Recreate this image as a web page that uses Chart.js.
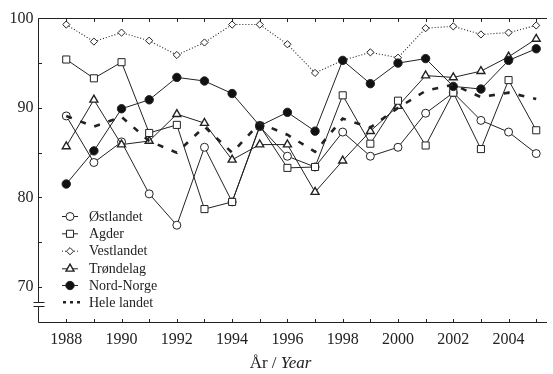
<!DOCTYPE html>
<html><head><meta charset="utf-8">
<script src="https://cdn.jsdelivr.net/npm/chart.js@4/dist/chart.umd.min.js"></script>
<style>html,body{margin:0;padding:0;background:#fff}#wrap{width:553px;height:374px}</style>
</head><body><div id="wrap"><canvas id="c" width="553" height="374"></canvas></div>
<script>
const years = [1988,1989,1990,1991,1992,1993,1994,1995,1996,1997,1998,1999,2000,2001,2002,2003,2004,2005];
const ostlandet  = [89.1,83.9,86.2,80.4,76.9,85.6,79.5,87.9,84.6,83.4,87.3,84.6,85.6,89.4,91.7,88.6,87.3,84.9];
const agder      = [95.4,93.3,95.1,87.2,88.1,78.7,79.5,88.0,83.3,83.4,91.4,86.0,90.8,85.8,91.7,85.4,93.1,87.5];
const vestlandet = [99.3,97.4,98.4,97.5,95.9,97.3,99.3,99.3,97.1,93.9,95.3,96.2,95.6,98.9,99.1,98.2,98.4,99.2];
const trondelag  = [85.7,90.9,85.9,86.3,89.3,88.3,84.2,85.9,85.9,80.6,84.1,87.4,90.2,93.6,93.4,94.1,95.7,97.7];
const nordNorge  = [81.5,85.2,89.9,90.9,93.4,93.0,91.6,88.0,89.5,87.4,95.3,92.7,95.0,95.5,92.4,92.1,95.3,96.6];
const heleLandet = [89.1,87.9,89.0,86.3,85.0,87.9,85.0,88.3,87.0,85.1,88.8,87.8,90.0,91.9,92.6,91.2,91.7,91.0];
const seriesNames = ['Østlandet','Agder','Vestlandet','Trøndelag','Nord-Norge','Hele landet'];
const yTickValues = [70,75,80,85,90,95,100];
const xAxisTitle = ['År / ', 'Year'];

const INK = '#222';
const FONT = '"Liberation Serif", "Times New Roman", serif';
const pts = arr => arr.map((v,i)=>({x:years[i], y:v}));

const styles = [
  {pointStyle:'circle', pointRadius:4, pointBackgroundColor:'#fff', borderDash:[], borderWidth:1, order:4},
  {pointStyle:'rect', pointRadius:5, pointBackgroundColor:'#fff', borderDash:[], borderWidth:1, order:2},
  {pointStyle:'rectRot', pointRadius:3.6, pointBackgroundColor:'#fff', borderDash:[1,2], borderWidth:1.1, order:5},
  {pointStyle:'triangle', pointRadius:4.6, pointBackgroundColor:'#fff', borderDash:[], borderWidth:1, order:3, pointBorderWidth:1.4},
  {pointStyle:'circle', pointRadius:4.2, pointBackgroundColor:'#111', borderDash:[], borderWidth:1, order:1},
  {pointStyle:false, pointRadius:0, pointBackgroundColor:'#111', borderDash:[6,9], borderWidth:2.6, order:0}
];
const seriesData = [ostlandet, agder, vestlandet, trondelag, nordNorge, heleLandet];

const datasets = seriesData.map((d,i)=>Object.assign({
  label: seriesNames[i], data: pts(d), borderColor: INK, pointBorderColor: INK,
  pointBorderWidth: styles[i].pointBorderWidth || 1, tension:0, fill:false, clip:false
}, styles[i]));

const decor = {
  id:'decor',
  afterDraw(chart){
    const {ctx, chartArea:a, scales:{x, y}} = chart;
    ctx.save();
    ctx.strokeStyle = INK; ctx.lineWidth = 1; ctx.setLineDash([]);
    const L = Math.round(a.left)+0.5, T = Math.round(a.top)+0.5, B = Math.round(a.bottom)+0.5, R = a.right;
    ctx.beginPath();
    ctx.moveTo(L,T); ctx.lineTo(R,T);
    ctx.moveTo(L,B); ctx.lineTo(R,B);
    ctx.moveTo(L,T); ctx.lineTo(L,B);
    x.ticks.forEach(t=>{ const px = Math.round(x.getPixelForValue(t.value))+0.5;
      ctx.moveTo(px,T); ctx.lineTo(px,T+3.5); ctx.moveTo(px,B); ctx.lineTo(px,B-3.5); });
    y.ticks.forEach(t=>{ const py = Math.round(y.getPixelForValue(t.value))+0.5;
      ctx.moveTo(L,py); ctx.lineTo(L+3.5,py); });
    ctx.stroke();
    // axis break
    const b1 = Math.round(y.getPixelForValue(68.35))+0.5, b2 = Math.round(y.getPixelForValue(67.9))+0.5;
    ctx.fillStyle = '#fff'; ctx.fillRect(L-1.5, b1, 3, b2-b1);
    ctx.beginPath();
    ctx.moveTo(L-5, b1); ctx.lineTo(L+6, b1);
    ctx.moveTo(L-5, b2); ctx.lineTo(L+6, b2);
    ctx.stroke();
    // x-axis title with italic part
    ctx.fillStyle = INK; ctx.textBaseline = 'middle';
    const f1 = '17px ' + FONT, f2 = 'italic 17px ' + FONT;
    ctx.font = f1; const w1 = ctx.measureText(xAxisTitle[0]).width;
    ctx.font = f2; const w2 = ctx.measureText(xAxisTitle[1]).width;
    const cx = x.getPixelForValue(1995.75), ty = 364;
    let sx = cx - (w1+w2)/2;
    ctx.font = f1; ctx.textAlign = 'left'; ctx.fillText(xAxisTitle[0], sx, ty);
    ctx.font = f2; ctx.fillText(xAxisTitle[1], sx + w1, ty);
    // legend
    const rows = [216, 233.3, 250.7, 268.3, 285, 302.3];
    ctx.font = '14px ' + FONT;
    chart.data.datasets.forEach((ds, i)=>{
      const ry = rows[i];
      ctx.strokeStyle = INK;
      if (i === 5) {
        ctx.lineWidth = 2.6; ctx.setLineDash([3,4]);
        ctx.beginPath(); ctx.moveTo(63, ry); ctx.lineTo(84, ry); ctx.stroke();
      } else {
        ctx.lineWidth = 1; ctx.setLineDash(ds.borderDash || []);
        ctx.beginPath(); ctx.moveTo(62, ry+0.5); ctx.lineTo(78, ry+0.5); ctx.stroke();
        ctx.setLineDash([]);
        ctx.fillStyle = ds.pointBackgroundColor; ctx.strokeStyle = INK; ctx.lineWidth = ds.pointBorderWidth;
        ctx.beginPath();
        Chart.helpers.drawPoint(ctx, {pointStyle: ds.pointStyle, radius: ds.pointRadius, borderWidth: ds.pointBorderWidth}, 70, ry+0.5);
      }
      ctx.setLineDash([]);
      ctx.fillStyle = INK; ctx.textAlign = 'left'; ctx.textBaseline = 'middle';
      ctx.fillText(ds.label, 89, ry+1);
    });
    ctx.restore();
  }
};

new Chart(document.getElementById('c'), {
  type: 'line',
  data: { datasets },
  plugins: [decor],
  options: {
    responsive: false, animation: false, devicePixelRatio: 1,
    layout: { padding: { top: 18.3, right: 0, bottom: 0, left: 0 } },
    plugins: { legend: { display: false }, tooltip: { enabled: false } },
    scales: {
      x: {
        type: 'linear', min: 1986.96, max: 2005.39,
        afterBuildTicks: s => { s.ticks = years.map(v=>({value:v})); },
        afterFit: s => { s.height = 51.7; },
        grid: { display: false, drawTicks: false },
        border: { display: false },
        ticks: { autoSkip: false, maxRotation: 0, padding: 8, color: INK,
          font: { family: FONT, size: 16 },
          callback: v => (v % 2 === 0 ? String(v) : '') }
      },
      y: {
        type: 'linear', min: 66.06, max: 100,
        afterBuildTicks: s => { s.ticks = yTickValues.map(v=>({value:v})); },
        afterFit: s => { s.width = 37.5; },
        grid: { display: false, drawTicks: false },
        border: { display: false },
        ticks: { padding: 4, color: INK, font: { family: FONT, size: 16 },
          callback: v => (v % 10 === 0 ? String(v) : '') }
      }
    }
  }
});
</script></body></html>
